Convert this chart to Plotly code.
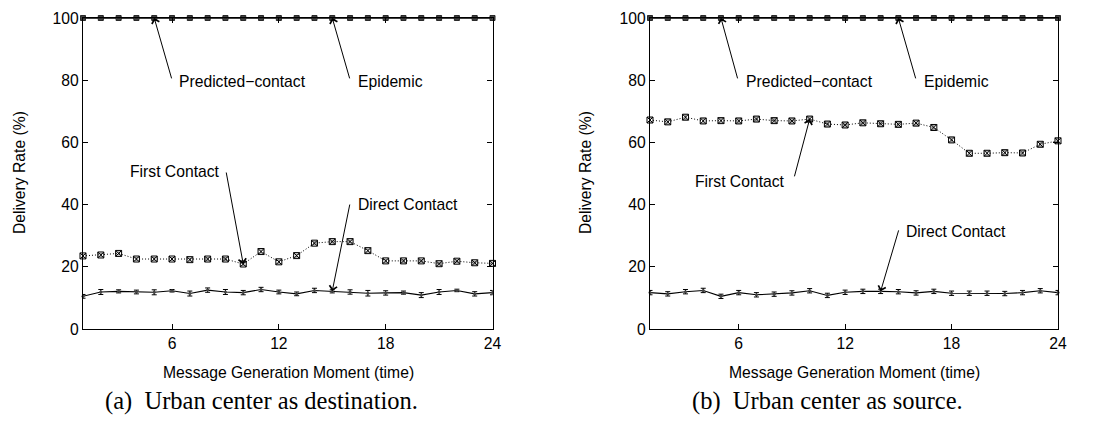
import plotly.graph_objects as go

hours = list(range(1, 25))

# Panel (a): urban center as destination
a_epidemic = [100] * 24
a_predicted = [100] * 24
a_first = [23.5, 23.8, 24.3, 22.5, 22.5, 22.5, 22.3, 22.5, 22.5, 20.9, 24.9, 21.6,
           23.6, 27.6, 28.1, 28.1, 25.2, 21.9, 21.9, 21.9, 21.0, 21.8, 21.3, 21.1]
a_first_err = [0.5] * 24
a_direct = [10.5, 11.9, 12.1, 11.9, 11.8, 12.3, 11.4, 12.5, 11.9, 11.7, 12.7, 11.9,
            11.3, 12.4, 12.1, 11.9, 11.5, 11.6, 11.7, 10.9, 11.9, 12.4, 11.3, 11.7]
a_direct_err = [0.6, 0.8, 0.5, 0.6, 0.8, 0.4, 0.8, 0.7, 0.8, 0.7, 0.7, 0.6,
                0.6, 0.7, 0.5, 0.7, 0.9, 0.7, 0.5, 0.8, 0.8, 0.4, 0.7, 0.7]

# Panel (b): urban center as source
b_epidemic = [100] * 24
b_predicted = [100] * 24
b_first = [67.2, 66.6, 68.1, 66.9, 67.0, 66.9, 67.5, 67.0, 66.9, 67.5, 65.9, 65.6,
           66.3, 66.0, 65.8, 66.2, 64.8, 60.8, 56.5, 56.5, 56.7, 56.6, 59.4, 60.5]
b_first_err = [0.7] * 24
b_direct = [11.7, 11.3, 12.0, 12.4, 10.5, 11.7, 11.0, 11.2, 11.6, 12.3, 10.8, 11.8,
            12.1, 12.1, 12.0, 11.6, 12.1, 11.5, 11.5, 11.5, 11.4, 11.7, 12.3, 11.7]
b_direct_err = [0.7] * 24

x_ticks = [6, 12, 18, 24]
y_ticks = [0, 20, 40, 60, 80, 100]
captions = ["(a)\u2002Urban center as destination.", "(b)\u2002Urban center as source."]
x_title = "Message Generation Moment (time)"
y_title = "Delivery Rate (%)"

FONT = "Liberation Sans, Arial, sans-serif"
FS = 15.7
fig = go.Figure()


def add_panel(xa, ya, epi, pred, first, first_err, direct, direct_err):
    fig.add_trace(go.Scatter(x=hours, y=epi, mode="lines+markers", xaxis=xa, yaxis=ya,
                             line=dict(color="black", width=1.2),
                             marker=dict(symbol="square", size=5, color="#555",
                                         line=dict(color="#222", width=1)),
                             cliponaxis=False, showlegend=False))
    fig.add_trace(go.Scatter(x=hours, y=pred, mode="lines+markers", xaxis=xa, yaxis=ya,
                             line=dict(color="black", width=1.2),
                             marker=dict(symbol="square-open", size=4, color="#333"),
                             cliponaxis=False, showlegend=False))
    fig.add_trace(go.Scatter(x=hours, y=first, mode="lines+markers", xaxis=xa, yaxis=ya,
                             line=dict(color="black", width=1, dash="1px,2px"),
                             marker=dict(symbol="square-x-open", size=6,
                                         line=dict(color="#444", width=1)),
                             error_y=dict(type="data", array=first_err, color="#999",
                                          thickness=1, width=3),
                             cliponaxis=False, showlegend=False))
    fig.add_trace(go.Scatter(x=hours, y=direct, mode="lines+markers", xaxis=xa, yaxis=ya,
                             line=dict(color="black", width=1.1),
                             marker=dict(symbol="circle", size=3, color="#444"),
                             error_y=dict(type="data", array=direct_err, color="black",
                                          thickness=1, width=2.5),
                             cliponaxis=False, showlegend=False))


add_panel("x", "y", a_epidemic, a_predicted, a_first, a_first_err, a_direct, a_direct_err)
add_panel("x2", "y2", b_epidemic, b_predicted, b_first, b_first_err, b_direct, b_direct_err)

axis_common = dict(showline=True, linecolor="black", linewidth=1.2, mirror="ticks",
                   ticks="inside", ticklen=5, tickcolor="black", tickwidth=1,
                   showgrid=False, zeroline=False, automargin=False,
                   tickfont=dict(family=FONT, size=FS, color="black"))

ydom = [95 / 424, 406 / 424]
fig.update_layout(
    template="none",
    width=1101, height=424, margin=dict(l=0, r=0, t=0, b=0, pad=0),
    paper_bgcolor="white", plot_bgcolor="white",
    xaxis=dict(domain=[83 / 1101, 492.5 / 1101], range=[1, 24], tickvals=x_ticks,
               anchor="y", **axis_common),
    yaxis=dict(domain=ydom, range=[0, 100], tickvals=y_ticks, anchor="x", **axis_common),
    xaxis2=dict(domain=[650 / 1101, 1058 / 1101], range=[1, 24], tickvals=x_ticks,
                anchor="y2", **axis_common),
    yaxis2=dict(domain=ydom, range=[0, 100], tickvals=y_ticks, anchor="x2", **axis_common),
)

tfont = dict(family=FONT, size=FS, color="black")
ann = []


def arrow_label(xr, yr, text, tip, tail, tpos, anchor):
    ann.append(dict(xref=xr, yref=yr, x=tip[0], y=tip[1], axref=xr, ayref=yr,
                    ax=tail[0], ay=tail[1], text="", showarrow=True, arrowhead=4,
                    arrowsize=1.5, arrowwidth=1, arrowcolor="black", standoff=0,
                    startstandoff=0))
    ann.append(dict(xref=xr, yref=yr, x=tpos[0], y=tpos[1], text=text, showarrow=False,
                    xanchor=anchor, yanchor="middle", font=tfont))


# panel (a)
arrow_label("x", "y", "Predicted\u2212contact", (5, 100), (6.0, 80.1), (6.28, 79.7), "left")
arrow_label("x", "y", "Epidemic", (15, 100), (16.0, 80.1), (16.34, 79.7), "left")
arrow_label("x", "y", "First Contact", (10, 20.9), (9.03, 50.8), (8.81, 50.5), "right")
arrow_label("x", "y", "Direct Contact", (15, 12.2), (16.0, 40.5), (16.34, 39.9), "left")
# panel (b)
arrow_label("x2", "y2", "Predicted\u2212contact", (5, 100), (5.96, 80.1), (6.30, 79.7), "left")
arrow_label("x2", "y2", "Epidemic", (15, 100), (16.0, 80.1), (16.33, 79.7), "left")
arrow_label("x2", "y2", "First Contact", (10, 67.5), (9.12, 48.6), (8.72, 47.3), "right")
arrow_label("x2", "y2", "Direct Contact", (14, 12.1), (15.04, 32.2), (15.32, 31.5), "left")

# axis titles
for cx, ycx in [(288 / 1101, 19 / 1101), (854 / 1101, 585 / 1101)]:
    ann.append(dict(xref="paper", yref="paper", x=cx, y=(424 - 372) / 424, text=x_title,
                    showarrow=False, xanchor="center", yanchor="middle", font=tfont))
    ann.append(dict(xref="paper", yref="paper", x=ycx, y=(424 - 173) / 424, text=y_title,
                    showarrow=False, xanchor="center", yanchor="middle", textangle=-90,
                    font=tfont))
# captions
for cap, cap_x in zip(captions, [261 / 1101, 827 / 1101]):
    ann.append(dict(xref="paper", yref="paper", x=cap_x, y=(424 - 401) / 424, text=cap,
                    showarrow=False, xanchor="center", yanchor="middle",
                    font=dict(family="Liberation Serif, Times New Roman, serif", size=24.5,
                              color="black")))

fig.update_layout(annotations=ann)
fig.write_html("out.html")
